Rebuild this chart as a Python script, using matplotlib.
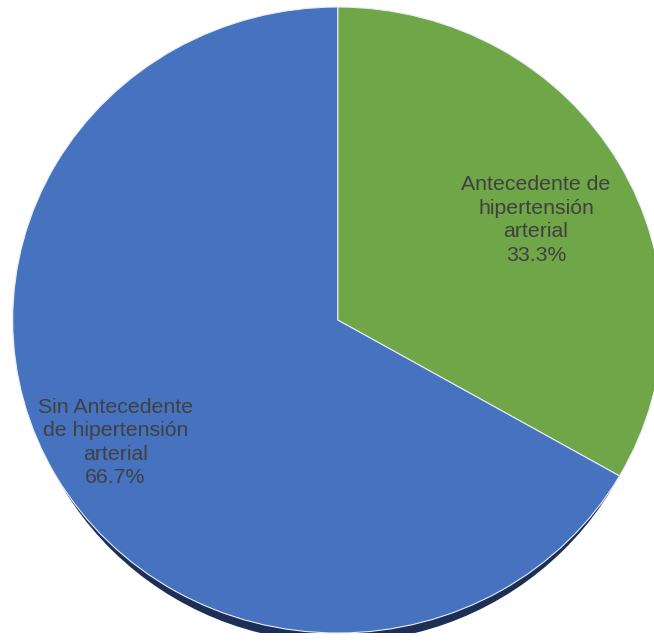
import matplotlib
matplotlib.use("Agg")
import matplotlib.pyplot as plt
from matplotlib.patches import Ellipse
import numpy as np

labels = ["Antecedente de\nhipertensión\narterial", "Sin Antecedente\nde hipertensión\narterial"]
values = [33.3, 66.7]
colors = ["#6FA647", "#4672BF"]
label_dist = [0.70, 0.78]
label_nudge = [(1, -7), (-2, 0)]   # points

plt.rcParams["font.family"] = ["Liberation Sans", "DejaVu Sans"]

fig = plt.figure(figsize=(6.54, 6.43), dpi=100)
# axes spans the pie's bounding box, right side runs past the figure edge
ax = fig.add_axes([12.7 / 654, 1 - 633 / 643, 650 / 654, 626 / 643])

# dark drop shadow under the lower rim
shadow = Ellipse((0, -0.03), 1.96, 2.0, facecolor="#1E2F55", edgecolor="none", zorder=0)
ax.add_patch(shadow)

wedges, _ = ax.pie(values, colors=colors, startangle=90, counterclock=False,
                   radius=1, normalize=True,
                   wedgeprops=dict(edgecolor="#E8EEF6", linewidth=0.8, zorder=1))

for w, lab, v, d, nd in zip(wedges, labels, values, label_dist, label_nudge):
    mid = np.deg2rad((w.theta1 + w.theta2) / 2)
    ax.annotate(f"{lab}\n{v:.1f}%", (d * np.cos(mid), d * np.sin(mid)),
                xytext=nd, textcoords="offset points",
                ha="center", va="center", fontsize=15.3, color="#404040",
                linespacing=1.3, zorder=3)

ax.set_xlim(-1, 1)
ax.set_ylim(-1, 1)
ax.set_aspect("auto")
ax.axis("off")

fig.savefig("out.png", dpi=100)
